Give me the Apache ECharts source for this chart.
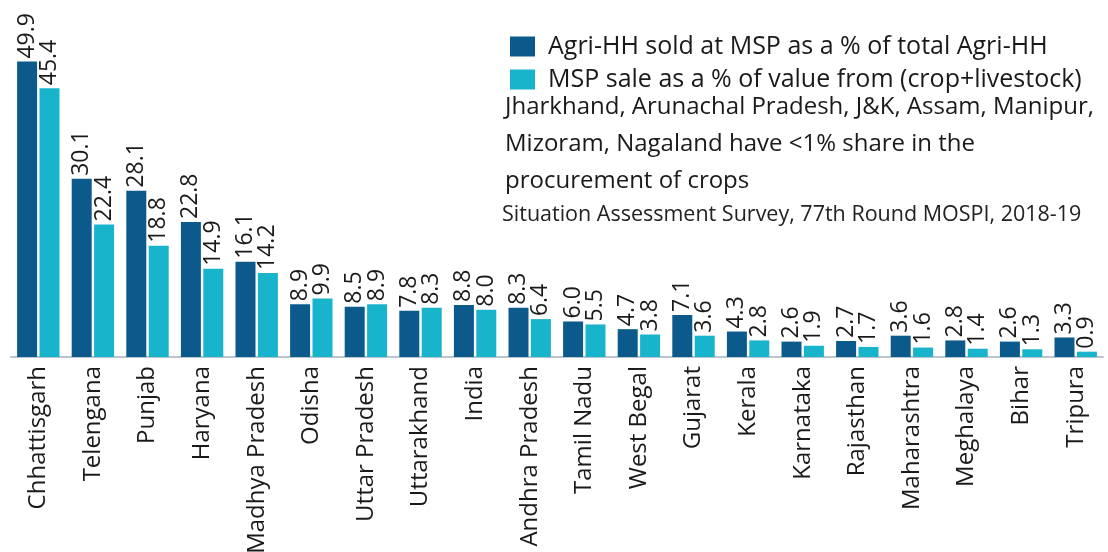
<!DOCTYPE html>
<html>
<head>
<meta charset="utf-8">
<script src="https://cdn.jsdelivr.net/npm/echarts@6/dist/echarts.min.js"></script>
<style>html,body{margin:0;padding:0;background:#fff;}#c{width:1108px;height:552px;}</style>
</head>
<body>
<div id="c"></div>
<script>
const categories = ["Chhattisgarh","Telengana","Punjab","Haryana","Madhya Pradesh","Odisha","Uttar Pradesh","Uttarakhand","India","Andhra Pradesh","Tamil Nadu","West Begal","Gujarat","Kerala","Karnataka","Rajasthan","Maharashtra","Meghalaya","Bihar","Tripura"];
const hhSoldAtMSP = [49.9,30.1,28.1,22.8,16.1,8.9,8.5,7.8,8.8,8.3,6.0,4.7,7.1,4.3,2.6,2.7,3.6,2.8,2.6,3.3];
const mspSaleShare = [45.4,22.4,18.8,14.9,14.2,9.9,8.9,8.3,8.0,6.4,5.5,3.8,3.6,2.8,1.9,1.7,1.6,1.4,1.3,0.9];
const seriesNames = ["Agri-HH sold at MSP as a % of total Agri-HH","MSP sale as a % of value from (crop+livestock)"];
const noteLines = ["Jharkhand, Arunachal Pradesh, J&K, Assam, Manipur,","Mizoram, Nagaland have <1% share in the","procurement of crops"];
const sourceText = "Situation Assessment Survey, 77th Round MOSPI, 2018-19";

const font = "'Open Sans', 'Noto Sans', sans-serif";
const chart = echarts.init(document.getElementById('c'), null, {renderer:'canvas'});
const valLabel = {
  show: true, position: 'top', rotate: 90, align: 'left', verticalAlign: 'middle',
  distance: 3, fontSize: 23, color: '#1a1a1a', fontFamily: font,
  formatter: p => p.value.toFixed(1)
};
chart.setOption({
  animation: false,
  backgroundColor: '#fff',
  grid: {left: 11, right: 5, top: 61, bottom: 195, containLabel: false, outerBoundsMode: 'none'},
  legend: {
    orient: 'vertical', left: 505, top: 29, itemWidth: 25, itemHeight: 20, itemGap: 8,
    icon: 'rect',
    textStyle: {fontSize: 25, lineHeight: 22, color: '#1a1a1a', fontFamily: font, padding: [0,0,0,8]},
    data: seriesNames
  },
  xAxis: {
    type: 'category', data: categories,
    axisLine: {lineStyle: {color: '#b9c6d0', width: 2}},
    axisTick: {show: false},
    axisLabel: {rotate: 90, fontSize: 24, color: '#1a1a1a', fontFamily: font, margin: 9, interval: 0}
  },
  yAxis: {type: 'value', min: 0, max: 50, show: false, splitLine: {show: false}},
  series: [
    {name: seriesNames[0], type: 'bar', data: hhSoldAtMSP, barWidth: 20, barGap: '12%',
     itemStyle: {color: '#0c5a8b'}, label: valLabel},
    {name: seriesNames[1], type: 'bar', data: mspSaleShare, barWidth: 20,
     itemStyle: {color: '#18b4cc'}, label: valLabel}
  ],
  graphic: [
    ...noteLines.map((t, i) => ({
      type: 'text', x: 505, y: 107 + i * 37,
      style: {text: t, fontSize: 24, fill: '#1a1a1a', fontFamily: font, verticalAlign: 'middle'}
    })),
    {type: 'text', x: 502, y: 215,
     style: {text: sourceText, fontSize: 21.5, fill: '#222', fontFamily: font, verticalAlign: 'middle'}}
  ]
});
</script>
</body>
</html>
